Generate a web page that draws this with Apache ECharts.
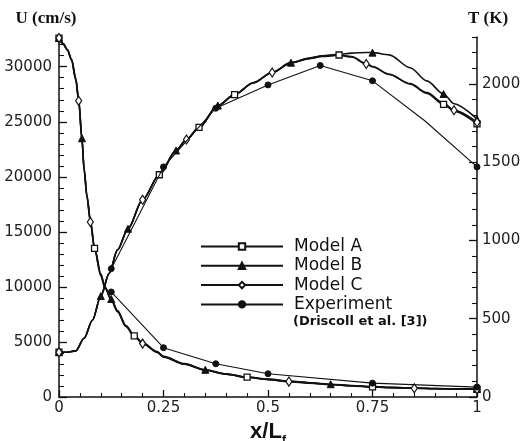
<!DOCTYPE html>
<html>
<head>
<meta charset="utf-8">
<script src="https://cdn.jsdelivr.net/npm/echarts@6/dist/echarts.min.js"></script>
<style>
  html, body { margin: 0; padding: 0; background: #fff; }
  #chart { width: 520px; height: 441px; }
</style>
</head>
<body>
<div id="chart"></div>
<script>
// Centreline velocity U (cm/s) along x/Lf
const xU = [0, 0.01, 0.02, 0.03, 0.04, 0.047, 0.055, 0.06, 0.067, 0.075, 0.085, 0.1, 0.11, 0.125, 0.14, 0.16, 0.18, 0.2, 0.235, 0.25, 0.3, 0.35, 0.4, 0.45, 0.5, 0.55, 0.6, 0.65, 0.7, 0.75, 0.8, 0.85, 0.9, 0.95, 1];
const uModelA = [32600, 32100, 31550, 30650, 28900, 27000, 23400, 20700, 18200, 16000, 13500, 11100, 9950, 8850, 7800, 6450, 5550, 4900, 4080, 3650, 3000, 2450, 2080, 1800, 1600, 1420, 1280, 1140, 1020, 920, 850, 800, 760, 730, 720];
const uModelB = [32600, 32100, 31550, 30700, 29000, 27100, 23500, 20800, 18300, 16100, 13600, 11200, 10000, 8900, 7850, 6500, 5600, 4950, 4120, 3700, 3030, 2470, 2100, 1820, 1620, 1450, 1300, 1160, 1040, 940, 870, 810, 770, 740, 730];
const uModelC = [32600, 32050, 31500, 30600, 28800, 26900, 23300, 20600, 18100, 15900, 13400, 11000, 9900, 8800, 7750, 6400, 5500, 4850, 4050, 3620, 2970, 2430, 2060, 1780, 1580, 1400, 1260, 1130, 1010, 910, 840, 790, 750, 720, 700];
const uMarksA = [0, 10, 16, 23, 29, 34];
const uMarksB = [0, 6, 13, 21, 27, 34];
const uMarksC = [0, 5, 9, 17, 25, 31, 34];

const xUExp = [0.125, 0.25, 0.375, 0.5, 0.75, 1];
const uExp = [9540, 4480, 3020, 2110, 1260, 900];
const uMarksExp = [0, 1, 2, 3, 4, 5];

// Centreline temperature T (K) along x/Lf
const xT = [0, 0.02, 0.04, 0.06, 0.08, 0.1, 0.12, 0.14, 0.165, 0.2, 0.24, 0.28, 0.305, 0.335, 0.38, 0.42, 0.465, 0.51, 0.555, 0.6, 0.63, 0.67, 0.7, 0.735, 0.75, 0.79, 0.84, 0.88, 0.92, 0.945, 1];
const tModelA = [286, 286, 295, 375, 490, 645, 790, 940, 1075, 1260, 1420, 1575, 1645, 1722, 1862, 1932, 2008, 2073, 2136, 2164, 2179, 2185, 2175, 2130, 2112, 2062, 2000, 1940, 1870, 1826, 1745];
const tModelB = [286, 286, 295, 375, 490, 645, 790, 940, 1075, 1260, 1420, 1575, 1645, 1722, 1862, 1932, 2008, 2073, 2136, 2166, 2180, 2190, 2197, 2201, 2200, 2186, 2104, 2020, 1936, 1874, 1775];
const tModelC = [286, 286, 295, 375, 490, 645, 790, 940, 1075, 1260, 1420, 1575, 1645, 1722, 1862, 1932, 2008, 2073, 2134, 2162, 2176, 2183, 2172, 2128, 2110, 2060, 2002, 1945, 1878, 1832, 1755];
const tMarksA = [0, 10, 13, 15, 21, 28, 30];
const tMarksB = [0, 5, 8, 11, 14, 18, 24, 28, 30];
const tMarksC = [0, 9, 12, 17, 23, 29, 30];

const xTExp = [0.125, 0.25, 0.375, 0.5, 0.625, 0.75, 0.875, 1];
const tExp = [820, 1470, 1845, 1994, 2118, 2020, 1765, 1470];
const tMarksExp = [0, 1, 2, 3, 4, 5, 7];

// Axis ticks
const uTicks = [0, 5000, 10000, 15000, 20000, 25000, 30000];
const uMinorTicks = [1000, 2000, 3000, 4000, 6000, 7000, 8000, 9000, 11000, 12000, 13000, 14000, 16000, 17000, 18000, 19000, 21000, 22000, 23000, 24000, 26000, 27000, 28000, 29000, 31000, 32000];
const tTicks = [0, 500, 1000, 1500, 2000];
const tMinorTicks = [100, 200, 300, 400, 600, 700, 800, 900, 1100, 1200, 1300, 1400, 1600, 1700, 1800, 1900, 2100, 2200, 2300];

const legendNames = ['Model A', 'Model B', 'Model C', 'Experiment'];
const sourceNote = '(Driscoll et al. [3])';

const INK = '#111';
const SANS = 'DejaVu Sans';
const plain = v => String(v);

const markerStyle = {
  'Model A': { symbol: 'rect', symbolSize: 6, itemStyle: { color: '#fff', borderColor: INK, borderWidth: 1.3 } },
  'Model B': { symbol: 'triangle', symbolSize: 7, itemStyle: { color: INK, borderColor: INK, borderWidth: 1 } },
  'Model C': { symbol: 'diamond', symbolSize: [6, 9], itemStyle: { color: '#fff', borderColor: INK, borderWidth: 1.2 } },
  'Experiment': { symbol: 'circle', symbolSize: 6, itemStyle: { color: INK, borderColor: INK, borderWidth: 1 } }
};

function points(xs, ys, marks) {
  return xs.map((x, i) => marks.includes(i)
    ? [x, ys[i]]
    : { value: [x, ys[i]], symbol: 'none' });
}

function profile(name, xs, ys, marks, axis, isModel) {
  const m = markerStyle[name];
  return {
    name: name,
    type: 'line',
    yAxisIndex: axis,
    data: points(xs, ys, marks),
    symbol: m.symbol,
    symbolSize: m.symbolSize,
    itemStyle: m.itemStyle,
    showSymbol: true,
    showAllSymbol: true,
    smooth: isModel ? 0.3 : false,
    smoothMonotone: 'x',
    lineStyle: { color: INK, width: isModel ? 1.6 : 1.1 },
    emphasis: { disabled: true },
    z: isModel ? 3 : 4
  };
}

const chart = echarts.init(document.getElementById('chart'), null, { renderer: 'canvas' });

chart.setOption({
  animation: false,
  backgroundColor: '#fff',
  grid: { left: 59, right: 43, top: 37, bottom: 44, outerBoundsMode: 'none' },
  legend: {
    orient: 'vertical',
    left: 195,
    top: 233,
    itemWidth: 82,
    itemHeight: 8,
    itemGap: 2.3,
    selectedMode: false,
    data: legendNames,
    textStyle: { fontFamily: SANS, fontSize: 17, color: INK, lineHeight: 17, padding: [0, 0, 0, 6] }
  },
  graphic: [{
    type: 'text',
    left: 293,
    top: 315,
    style: { text: sourceNote, font: 'bold 13px "DejaVu Sans"', fill: INK }
  }],
  xAxis: {
    type: 'value',
    min: 0,
    max: 1,
    interval: 0.25,
    axisLine: { onZero: false, lineStyle: { color: INK, width: 1.5 } },
    axisTick: { inside: true, length: 7, lineStyle: { color: INK, width: 1.3 } },
    minorTick: { show: true, splitNumber: 5, length: 4, lineStyle: { color: INK, width: 1.1 } },
    splitLine: { show: false },
    axisLabel: { fontFamily: SANS, fontSize: 15, color: '#222', margin: 4, formatter: plain },
    name: '{a|x/L}{b|f}',
    nameLocation: 'middle',
    nameGap: 14,
    nameTextStyle: {
      rich: {
        a: { fontFamily: 'Liberation Sans', fontWeight: 'bold', fontSize: 22, lineHeight: 22, verticalAlign: 'top', color: INK },
        b: { fontFamily: 'Liberation Sans', fontWeight: 'bold', fontSize: 12, lineHeight: 26, verticalAlign: 'bottom', color: INK }
      }
    }
  },
  yAxis: [
    {
      type: 'value',
      position: 'left',
      min: 0,
      max: 32700,
      interval: 5000,
      axisLine: { show: true, onZero: false, lineStyle: { color: INK, width: 1.5 } },
      axisTick: { customValues: uTicks, inside: true, length: 8, lineStyle: { color: INK, width: 1.3 } },
      axisLabel: { customValues: uTicks, fontFamily: SANS, fontSize: 15, color: '#222', margin: 7, formatter: plain },
      splitLine: { show: false },
      name: 'U (cm/s)',
      nameLocation: 'end',
      nameGap: 10,
      nameTextStyle: { fontFamily: 'Liberation Serif', fontWeight: 'bold', fontSize: 17, color: INK, align: 'center', verticalAlign: 'bottom', padding: [0, 26, 0, 0] }
    },
    {
      type: 'value',
      position: 'right',
      min: 0,
      max: 2300,
      interval: 500,
      axisLine: { show: true, onZero: false, lineStyle: { color: INK, width: 1.5 } },
      axisTick: { customValues: tTicks, inside: true, length: 8, lineStyle: { color: INK, width: 1.3 } },
      axisLabel: { customValues: tTicks, fontFamily: SANS, fontSize: 15, color: '#222', margin: 5, formatter: plain },
      splitLine: { show: false },
      name: 'T (K)',
      nameLocation: 'end',
      nameGap: 10,
      nameTextStyle: { fontFamily: 'Liberation Serif', fontWeight: 'bold', fontSize: 17, color: INK, align: 'center', verticalAlign: 'bottom', padding: [0, 0, 0, 22] }
    },
    {
      type: 'value',
      position: 'left',
      min: 0,
      max: 32700,
      interval: 1000,
      axisLine: { show: false, onZero: false },
      axisTick: { customValues: uMinorTicks, inside: true, length: 5, lineStyle: { color: INK, width: 1.1 } },
      axisLabel: { show: false },
      splitLine: { show: false }
    },
    {
      type: 'value',
      position: 'right',
      min: 0,
      max: 2300,
      interval: 100,
      axisLine: { show: false, onZero: false },
      axisTick: { customValues: tMinorTicks, inside: true, length: 5, lineStyle: { color: INK, width: 1.1 } },
      axisLabel: { show: false },
      splitLine: { show: false }
    }
  ],
  series: [
    profile('Model A', xU, uModelA, uMarksA, 0, true),
    profile('Model B', xU, uModelB, uMarksB, 0, true),
    profile('Model C', xU, uModelC, uMarksC, 0, true),
    profile('Experiment', xUExp, uExp, uMarksExp, 0, false),
    profile('Model A', xT, tModelA, tMarksA, 1, true),
    profile('Model B', xT, tModelB, tMarksB, 1, true),
    profile('Model C', xT, tModelC, tMarksC, 1, true),
    profile('Experiment', xTExp, tExp, tMarksExp, 1, false)
  ]
});
</script>
</body>
</html>
